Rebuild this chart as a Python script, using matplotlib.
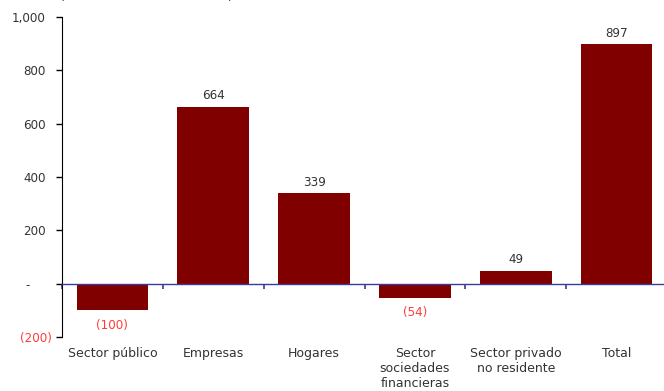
import matplotlib.pyplot as plt
from matplotlib.ticker import FixedLocator

# Contribución por sector
sectores = ['Sector público', 'Empresas', 'Hogares',
            'Sector\nsociedades\nfinancieras', 'Sector privado\nno residente', 'Total']
valores = [-100, 664, 339, -54, 49, 897]

y_ticks = [-200, 0, 200, 400, 600, 800, 1000]
y_labels = ['(200)', '-', '200', '400', '600', '800', '1,000']

gris = '#333333'
rojo = '#ff3b3b'
granate = '#800000'
azul = '#3a3a9a'
fs_num = 8.6

fig = plt.figure(figsize=(6.64, 3.91), dpi=100)
ax = fig.add_axes([62 / 664, 54 / 391, 605 / 664, 320 / 391])

x = range(len(sectores))
ax.bar(x, valores, width=0.71, color=granate, zorder=2)

ax.set_xlim(-0.5, len(sectores) - 0.5)
ax.set_ylim(-200, 1000)

# eje y con formato contable: negativos entre paréntesis, cero como guion
ax.set_yticks(y_ticks)
ax.set_yticklabels([])
ax.tick_params(axis='y', direction='out', length=4, width=1, color='black')
for v, txt in zip(y_ticks, y_labels):
    if v < 0:
        dx, ha, col = -7.2, 'right', rojo
    elif v == 0:
        dx, ha, col = -24.5, 'center', gris
    else:
        dx, ha, col = -11.5, 'right', gris
    ax.annotate(txt, (0, v), xycoords=('axes fraction', 'data'), xytext=(dx, 0),
                textcoords='offset points', ha=ha, va='center_baseline', fontsize=fs_num,
                color=col, annotation_clip=False)

# eje horizontal en cero, marcas entre categorías
for s in ['top', 'right']:
    ax.spines[s].set_visible(False)
ax.spines['bottom'].set_position(('data', 0))
ax.spines['bottom'].set_color(azul)
ax.spines['bottom'].set_linewidth(1)
ax.spines['bottom'].set_zorder(3)
ax.xaxis.set_major_locator(FixedLocator([i - 0.5 for i in range(len(sectores) + 1)]))
ax.set_xticklabels([])
ax.tick_params(axis='x', direction='out', length=3.5, width=1.2, color=azul)

for i, nombre in enumerate(sectores):
    ax.text(i, -0.03, nombre, transform=ax.get_xaxis_transform(),
            ha='center', va='top', fontsize=9, color=gris, linespacing=1.2)

for i, v in enumerate(valores):
    if v < 0:
        ax.annotate(f'({abs(v)})', (i, v), xytext=(0, -6), textcoords='offset points',
                    ha='center', va='top', fontsize=fs_num, color=rojo)
    else:
        ax.annotate(f'{v}', (i, v), xytext=(0, 3), textcoords='offset points',
                    ha='center', va='bottom', fontsize=fs_num, color=gris)

fig.text(60 / 664, 1.0, '(En millones de US dólares)', ha='left', va='baseline',
         fontsize=9, color=gris)

fig.savefig('out.png', dpi=100)
